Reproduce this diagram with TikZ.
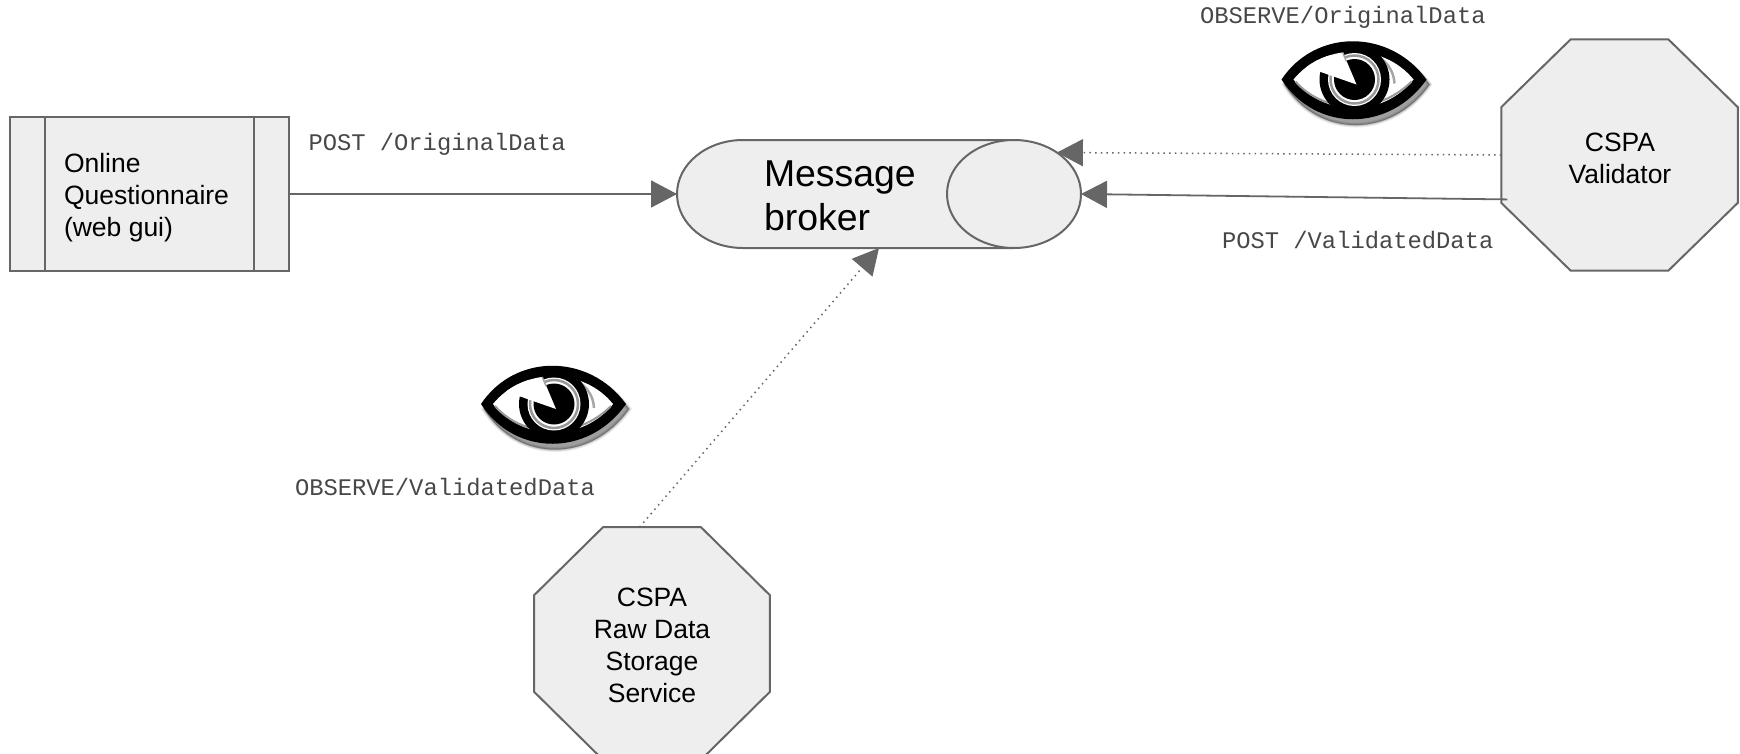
\documentclass[tikz,border=0pt]{standalone}
\usepackage{fontspec}
\setmainfont{Liberation Sans}
\setmonofont{Liberation Mono}
\usetikzlibrary{arrows.meta,shapes.geometric}
\definecolor{edgegray}{HTML}{666666}
\definecolor{fillgray}{HTML}{EEEEEE}
\tikzset{
  x=1pt,y=-1pt,
  shapebox/.style={draw=edgegray,fill=fillgray,line width=2pt,inner sep=0pt,outer sep=0pt},
  octa/.style={shapebox,regular polygon,regular polygon sides=8,transform shape},
  plain/.style={align=left,inner sep=0pt,outer sep=0pt,font=\fontsize{26.5}{32}\selectfont},
  centred/.style={plain,align=center},
  big/.style={align=left,inner sep=0pt,outer sep=0pt,font=\fontsize{37.4}{44}\selectfont},
  monolabel/.style={inner sep=0pt,outer sep=0pt,anchor=west,text=black!72,font=\fontsize{23.8}{28}\selectfont\ttfamily},
  conn/.style={draw=edgegray,line width=1.8pt,-{Triangle[length=26pt,width=27pt,fill=edgegray]}},
  dotconn/.style={conn,line width=1.5pt,dash pattern=on 1.5pt off 4.2pt},
  pics/eyeicon/.style={code={
    \foreach \o/\s in {0.07/5,0.09/3.2,0.12/1.6,0.16/0.4}{
      \draw[black,opacity=\o,line width=\s pt,fill=black] (-69,5) .. controls (-35,-46) and (38,-46) .. (76,5) .. controls (38,59) and (-35,59) .. (-69,5) -- cycle;
    }
    \fill[black] (-72,0) .. controls (-38,-51) and (36,-51) .. (73,0) .. controls (36,53) and (-38,53) .. (-72,0) -- cycle;
    \fill[white] (-60,0) .. controls (-30,-37) and (30,-37) .. (60,0) .. controls (30,38) and (-30,38) .. (-60,0) -- cycle;
    \draw[gray!80,line width=2pt] (-58,2) .. controls (-30,34) and (24,36) .. (58,2);
    \draw[gray!70,line width=2.5pt] (8,-29) .. controls (26,-26) and (40,-14) .. (41,4);
    \fill[black] (1,0) circle (35);
    \fill[white] (1,0) circle (26.5);
    \draw[gray!80,line width=2.5pt] (1,0) circle (24);
    \fill[black] (1,0) circle (20.5);
    \begin{scope}
      \clip (-60,0) .. controls (-30,-37) and (30,-37) .. (60,0) .. controls (30,38) and (-30,38) .. (-60,0) -- cycle;
      \fill[white] (3,5) -- (-19,-47) -- (-60,-47) -- (-60,-17) -- cycle;
      \draw[gray!70,line width=1.5pt] (-7,-18) -- (-13,-32);
    \end{scope}
  }},
}
\begin{document}
\begin{tikzpicture}
\useasboundingbox (0,0) rectangle (1740,753);

% Online Questionnaire
\node[shapebox,minimum width=279pt,minimum height=154pt] (gui) at (149.5,194) {};
\draw[edgegray,line width=2pt] ([xshift=35pt]gui.north west) -- ([xshift=35pt]gui.south west);
\draw[edgegray,line width=2pt] ([xshift=-35pt]gui.north east) -- ([xshift=-35pt]gui.south east);
\node[plain,anchor=west] (guitext) at (64,198) {Online\\Questionnaire\\(web gui)};

% Message broker
\node[inner sep=0pt,outer sep=0pt,minimum width=404pt,minimum height=108pt] (broker) at (879,194) {};
\path[draw=edgegray,fill=fillgray,line width=2pt] (1013,140) -- (743,140) .. controls (706.5,140) and (677,164.2) .. (677,194) .. controls (677,223.8) and (706.5,248) .. (743,248) -- (1013,248);
\node[shapebox,ellipse,minimum width=134pt,minimum height=108pt] (brokerend) at (1014,194) {};
\node[big,anchor=west] (brokertext) at (764,196) {Message\\broker};

% Services
\node[octa,minimum size=256pt,yscale=.977] (validator) at (1619.5,155) {};
\node[centred] (validatortext) at (1620,158) {CSPA\\Validator};
\node[octa,minimum size=255.4pt,yscale=.987] (storage) at (652,643.5) {};
\node[centred] (storagetext) at (652,645) {CSPA\\Raw Data\\Storage\\Service};

% Connectors
\draw[conn] (gui.east) -- (broker.west);
\draw[conn,shorten <=-6pt] (validator.201) -- (brokerend.east);
\draw[dotconn] (validator.west) -- (brokerend.44);
\draw[dotconn] (storage.96.5) -- (broker.south);

% Labels
\node[monolabel] (l1) at (308.5,144) {POST /OriginalData};
\node[monolabel] (l2) at (1200,17) {OBSERVE/OriginalData};
\node[monolabel] (l3) at (1222,240) {POST /ValidatedData};
\node[monolabel] (l4) at (295,487) {OBSERVE/ValidatedData};

% Eyes
\pic at (1353.5,79.5) {eyeicon};
\pic at (553,404) {eyeicon};
\end{tikzpicture}
\end{document}
